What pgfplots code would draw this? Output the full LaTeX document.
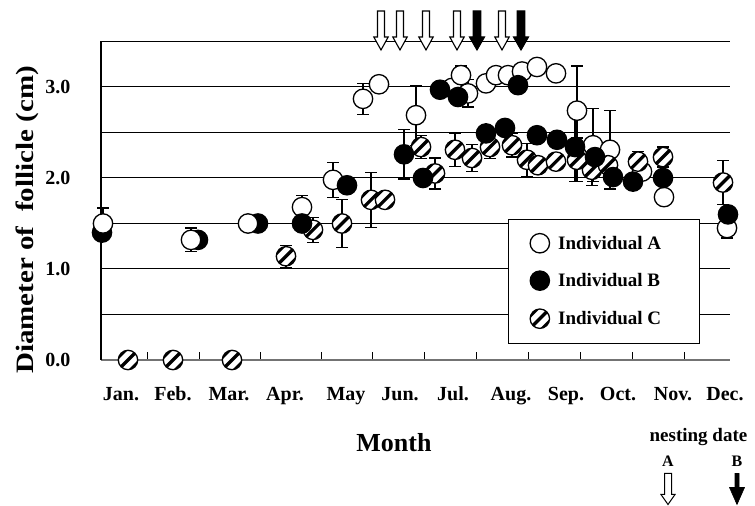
\documentclass[border=0pt]{standalone}
\usepackage{fontspec}
\setmainfont{Liberation Serif}
\usepackage{pgfplots}
\pgfplotsset{compat=1.18}

\pgfdeclareplotmark{hatchcirc}{%
  \pgfpathcircle{\pgfpointorigin}{\pgfplotmarksize}%
  \pgfsetfillcolor{white}%
  \pgfusepath{fill}%
  \begin{pgfscope}%
    \pgfpathcircle{\pgfpointorigin}{\pgfplotmarksize}%
    \pgfusepath{clip}%
    \pgfsetstrokecolor{black}%
    \pgfsetlinewidth{0.34\pgfplotmarksize}%
    \pgfpathmoveto{\pgfpoint{-\pgfplotmarksize}{-\pgfplotmarksize}}%
    \pgfpathlineto{\pgfpoint{\pgfplotmarksize}{\pgfplotmarksize}}%
    \pgfusepath{stroke}%
    \pgfsetlinewidth{0.22\pgfplotmarksize}%
    \pgfpathmoveto{\pgfpoint{-1.6\pgfplotmarksize}{-0.4\pgfplotmarksize}}%
    \pgfpathlineto{\pgfpoint{0.4\pgfplotmarksize}{1.6\pgfplotmarksize}}%
    \pgfpathmoveto{\pgfpoint{-0.4\pgfplotmarksize}{-1.6\pgfplotmarksize}}%
    \pgfpathlineto{\pgfpoint{1.6\pgfplotmarksize}{0.4\pgfplotmarksize}}%
    \pgfusepath{stroke}%
  \end{pgfscope}%
  \pgfpathcircle{\pgfpointorigin}{\pgfplotmarksize}%
  \pgfusepath{stroke}%
}

\newcommand{\openarr}[1]{\draw[line width=1.1pt, fill=white] (#1pt,456pt) -- ++(-7.2pt,13pt) -- ++(3.7pt,0pt) -- ++(0pt,26pt) -- ++(7pt,0pt) -- ++(0pt,-26pt) -- ++(3.7pt,0pt) -- cycle;}
\newcommand{\fillarr}[1]{\draw[line width=1.1pt, fill=black] (#1pt,456pt) -- ++(-7.5pt,13pt) -- ++(3.7pt,0pt) -- ++(0pt,26pt) -- ++(7.6pt,0pt) -- ++(0pt,-26pt) -- ++(3.7pt,0pt) -- cycle;}

\newcommand{\tickfont}{\fontsize{20}{24}\selectfont\bfseries}

\begin{document}
\begin{tikzpicture}
\useasboundingbox (0pt,0pt) rectangle (755pt,506pt);
\begin{axis}[
  at={(101pt,146pt)}, anchor=south west,
  scale only axis, width=629pt, height=318.5pt,
  xmin=101, xmax=730, ymin=0, ymax=3.5,
  clip=false,
  axis lines=left,
  axis line style={-},
  x axis line style={black!55, line width=1.5pt},
  y axis line style={black, line width=1.2pt},
  xtick={147.5,199,260,321,372.5,424.6,476.6,528.7,580.7,632.3,684.3},
  xticklabels={},
  xtick align=inside,
  major tick length=8pt,
  minor tick length=0pt,
  xtick style={black, line width=1pt},
  ytick={0,1,2,3},
  yticklabels={0.0,1.0,2.0,3.0},
  ytick style={draw=none},
  minor ytick={0.5,1.5,2.5,3.5},
  ymajorgrids, yminorgrids,
  major grid style={black, line width=1pt},
  minor grid style={black, line width=1pt},
  yticklabel style={font=\tickfont, xshift=-23pt},
  legend style={at={(axis cs:508,1.549)}, anchor=north west, draw=black, line width=1pt, fill=white,
    font=\fontsize{19}{22}\selectfont\bfseries, row sep=18pt, inner xsep=21pt, inner ysep=14pt},
  legend cell align=left,
  error bars/error bar style={line width=1.2pt, black},
  error bars/error mark options={rotate=90, mark size=6pt, line width=1.2pt, black},
]
% Individual B, first months (drawn below A)
\addplot[only marks, mark=*, mark size=9.7pt, mark options={fill=black, draw=black, line width=1.2pt}, forget plot]
table {
x y
102 1.40
198 1.32
258 1.50
};
% Individual A
\addplot[only marks, mark=*, mark size=9.7pt, mark options={fill=white, draw=black, line width=1.3pt},
  error bars/.cd, y dir=both, y explicit]
table[x=x, y=y, y error=e] {
x y e
103 1.50 0.17
191 1.32 0.13
248 1.50 0
302 1.68 0.13
333 1.98 0.19
363 2.87 0.17
379 3.03 0
416 2.69 0.33
452 2.99 0
461 3.13 0.10
468 2.93 0.15
486 3.04 0
496 3.13 0
508 3.13 0
522 3.17 0
537 3.22 0
556 3.15 0
577 2.74 0.49
593 2.36 0.40
610 2.31 0.43
642 2.07 0
664 1.79 0
727 1.45 0.11
};
\addlegendentry{\makebox[124pt][l]{\hspace{6pt}Individual A}}
% Individual C
\addplot[only marks, mark=hatchcirc, mark size=9.7pt, mark options={draw=black, line width=1.3pt}, forget plot,
  error bars/.cd, y dir=both, y explicit]
table[x=x, y=y, y error=e] {
x y e
128 0 0
173 0 0
232 0 0
286 1.14 0.12
313 1.43 0.14
342 1.50 0.26
371 1.76 0.30
385 1.76 0
421 2.34 0.13
435 2.05 0.17
455 2.31 0.18
472 2.22 0.15
490 2.34 0.13
512 2.36 0.13
527 2.20 0.18
538 2.14 0
556 2.18 0
577 2.20 0.24
592 2.09 0.17
608 2.14 0
638 2.18 0.11
663 2.23 0.11
723 1.95 0.24
};
% Individual B
\addplot[only marks, mark=*, mark size=9.7pt, mark options={fill=black, draw=black, line width=1.2pt},
  error bars/.cd, y dir=both, y explicit]
table[x=x, y=y, y error=e] {
x y e
302 1.50 0
347 1.92 0
404 2.26 0.27
423 2.00 0
440 2.97 0
458 2.89 0
486 2.49 0
505 2.55 0
518 3.02 0
537 2.47 0
557 2.42 0
575 2.34 0.38
595 2.23 0
613 2.01 0
633 1.96 0
663 2.00 0
728 1.60 0
};
\addlegendentry{\makebox[124pt][l]{\hspace{6pt}Individual B}}
\addlegendimage{only marks, mark=hatchcirc, mark size=9.7pt, mark options={draw=black, line width=1.3pt}}
\addlegendentry{\makebox[124pt][l]{\hspace{6pt}Individual C}}
\end{axis}

% month labels
\foreach \x/\m in {121/Jan., 173/Feb., 229/Mar., 285/Apr., 346/May, 400/Jun., 453/Jul., 511/Aug., 566/Sep., 618/Oct., 673/Nov., 725/Dec.}
  \node[anchor=base, font=\tickfont, inner sep=0pt] at (\x pt,105pt) {\m};

\node[anchor=base, font=\fontsize{26}{30}\selectfont\bfseries, inner sep=0pt] at (394pt,54pt) {Month};
\node[rotate=90, anchor=base, font=\fontsize{25}{30}\selectfont\bfseries, inner sep=0pt] at (33pt,286pt)
  {\scalebox{1.16}[1]{Diameter of\ \ follicle (cm)}};

% nesting arrows at top
\openarr{381}
\openarr{400}
\openarr{426}
\openarr{457}
\fillarr{477}
\openarr{502}
\fillarr{521}

% nesting date key
\node[anchor=base, font=\fontsize{19}{22}\selectfont\bfseries, inner sep=0pt] at (698.5pt,64pt) {nesting date};
\node[anchor=base, font=\fontsize{16}{19}\selectfont\bfseries, inner sep=0pt] at (668pt,39pt) {A};
\node[anchor=base, font=\fontsize{16}{19}\selectfont\bfseries, inner sep=0pt] at (737pt,39pt) {B};
\draw[line width=1pt, fill=white] (668pt,1.5pt) -- ++(-7pt,10pt) -- ++(3.5pt,0pt) -- ++(0pt,21pt) -- ++(7pt,0pt) -- ++(0pt,-21pt) -- ++(3.5pt,0pt) -- cycle;
\draw[line width=0.6pt, fill=black] (737pt,1.5pt) -- ++(-7.5pt,17pt) -- ++(5.5pt,0pt) -- ++(0pt,14pt) -- ++(4pt,0pt) -- ++(0pt,-14pt) -- ++(5.5pt,0pt) -- cycle;
\end{tikzpicture}
\end{document}
